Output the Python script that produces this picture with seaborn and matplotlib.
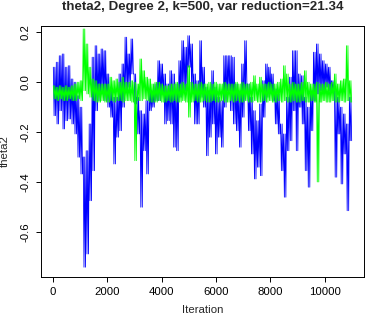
import numpy as np
import pandas as pd
import matplotlib
matplotlib.use("Agg")
import matplotlib.pyplot as plt
import seaborn as sns

# trace: per block of 110 iterations, the high and low value
blue_hi = [0.059, 0.079, 0.105, 0.112, 0.059, 0.065, 0.012, -0.001, -0.055, -0.101,
           -0.300, -0.275, -0.168, 0.099, 0.145, 0.112, 0.132, 0.125, 0.032,
           -0.035, -0.061, -0.061, 0.032, 0.072, 0.179, 0.112, 0.172, 0.032, -0.061,
           -0.115, -0.128, -0.075, -0.035, -0.035, -0.008, 0.085, 0.072, 0.032, -0.008,
           0.045, 0.032, -0.008, 0.085, 0.165, 0.139, 0.185, 0.152, 0.032, 0.005,
           0.165, 0.059, -0.021, -0.035, 0.045, -0.021, -0.061, -0.075, 0.105, 0.105,
           0.105, 0.099, -0.008, -0.035, 0.072, 0.165, -0.008, -0.061, -0.115, -0.155,
           -0.088, 0.005, 0.072, 0.059, 0.032, -0.028, -0.048, -0.168, -0.208, -0.061,
           0.019, 0.125, 0.125, 0.032, 0.025, -0.061, -0.101, -0.035, 0.119, 0.152,
           0.112, 0.085, 0.072, 0.059, 0.005, -0.035, -0.061, -0.101, -0.128, -0.168, -0.061]
blue_lo = [-0.135, -0.168, -0.115, -0.188, -0.155, -0.148, -0.168, -0.208, -0.301, -0.368,
           -0.741, -0.688, -0.475, -0.355, -0.115, -0.075, -0.048, -0.075, -0.101,
           -0.141, -0.328, -0.221, -0.195, -0.101, -0.035, -0.021, 0.032, -0.088, -0.208,
           -0.501, -0.275, -0.368, -0.115, -0.101, -0.075, -0.075, -0.048, -0.168, -0.155,
           -0.168, -0.261, -0.275, -0.061, -0.035, -0.035, 0.059, -0.035, -0.168, -0.168,
           -0.061, -0.101, -0.295, -0.221, -0.168, -0.288, -0.221, -0.261, -0.101, -0.035,
           -0.115, -0.168, -0.195, -0.261, -0.141, -0.035, -0.195, -0.288, -0.388, -0.341,
           -0.375, -0.141, -0.061, -0.048, -0.075, -0.168, -0.208, -0.355, -0.461, -0.275,
           -0.235, -0.115, -0.275, -0.101, -0.168, -0.355, -0.421, -0.195, -0.075, -0.048,
           -0.035, -0.035, -0.021, -0.035, -0.035, -0.381, -0.208, -0.408, -0.288, -0.515, -0.235]

green_hi = [-0.015, -0.021, -0.015, -0.021, -0.015, -0.021, -0.015, -0.008, -0.001, 0.005,
            0.212, 0.152, 0.059, 0.012, 0.005, -0.008, -0.008, -0.008, -0.008,
            0.019, 0.005, 0.012, -0.001, 0.019, -0.001, -0.001, 0.005, -0.001, -0.008,
            0.092, 0.045, 0.019, 0.012, -0.008, -0.001, -0.001, -0.008, -0.015, -0.015,
            -0.008, -0.008, -0.001, -0.008, -0.001, -0.008, 0.065, -0.001, -0.008, -0.008,
            -0.001, -0.008, -0.008, -0.001, -0.008, -0.001, -0.008, -0.008, -0.001, -0.008,
            -0.008, -0.008, -0.001, -0.008, -0.001, -0.008, -0.008, -0.001, 0.025, -0.008,
            0.019, -0.008, -0.008, -0.001, -0.008, -0.008, -0.001, 0.012, 0.065, 0.032,
            -0.008, -0.001, -0.008, -0.008, -0.001, 0.045, -0.001, -0.008, -0.008, -0.001,
            -0.008, -0.008, -0.001, -0.008, -0.001, 0.032, -0.008, 0.005, 0.012, 0.145, 0.005]
green_lo = [-0.068, -0.075, -0.068, -0.075, -0.075, -0.068, -0.075, -0.075, -0.068, -0.075,
            -0.035, -0.048, -0.061, -0.075, -0.081, -0.081, -0.075, -0.081, -0.081,
            -0.075, -0.081, -0.075, -0.075, -0.081, -0.075, -0.075, -0.081, -0.315, -0.075,
            -0.075, -0.068, -0.075, -0.081, -0.081, -0.081, -0.075, -0.081, -0.081, -0.075,
            -0.081, -0.075, -0.081, -0.081, -0.075, -0.081, -0.141, -0.081, -0.075, -0.081,
            -0.081, -0.075, -0.081, -0.081, -0.075, -0.081, -0.081, -0.075, -0.081, -0.081,
            -0.075, -0.081, -0.075, -0.081, -0.081, -0.075, -0.081, -0.081, -0.075, -0.081,
            -0.081, -0.075, -0.081, -0.075, -0.081, -0.081, -0.075, -0.081, -0.075, -0.081,
            -0.081, -0.075, -0.081, -0.081, -0.075, -0.081, -0.081, -0.075, -0.081, -0.400,
            -0.081, -0.075, -0.081, -0.081, -0.075, -0.081, -0.081, -0.075, -0.081, -0.075, -0.081]

block = 110
x_ticks = [0, 2000, 4000, 6000, 8000, 10000]
y_ticks = [-0.6, -0.4, -0.2, 0.0, 0.2]
y_labels = ["-0.6", "-0.4", "-0.2", "0.0", "0.2"]


def zigzag(hi, lo, swings=2):
    # the trace swings between the block's high and low a few times per block
    vals = np.tile(np.column_stack([hi, lo]), swings).ravel()
    step = block / (2 * swings)
    it = np.arange(len(vals)) * step + step / 2
    return pd.DataFrame({"Iteration": it, "theta2": vals})


sns.set_theme(style="ticks")
plt.rcParams["font.family"] = ["Liberation Sans", "DejaVu Sans"]
plt.rcParams["axes.unicode_minus"] = False

fig = plt.figure(figsize=(3.66, 3.17), dpi=100)
ax = fig.add_axes([41 / 366, 1 - 276.7 / 317, 323 / 366, 251 / 317])

sns.lineplot(data=zigzag(blue_hi, blue_lo), x="Iteration", y="theta2", ax=ax,
             color="#0000ff", lw=0.6, sort=False, estimator=None)
sns.lineplot(data=zigzag(green_hi, green_lo), x="Iteration", y="theta2", ax=ax,
             color="#00ff00", lw=0.6, sort=False, estimator=None)

ax.set_xlim(-440, 11440)
ax.set_ylim(-0.779, 0.225)
ax.set_xticks(x_ticks)
ax.set_yticks(y_ticks)
ax.set_yticklabels(y_labels, rotation=90, va="center")
ax.tick_params(direction="out", length=3.6, width=0.7, labelsize=8.2, pad=4, colors="black")
for s in ax.spines.values():
    s.set_linewidth(0.7)
    s.set_color("black")
ax.set_xlabel("Iteration", fontsize=8.2, labelpad=5.5)
ax.set_ylabel("theta2", fontsize=8.2, labelpad=8)
fig.text(202.5 / 366, 1 - 7 / 317, "theta2, Degree 2, k=500, var reduction=21.34",
         ha="center", va="center", fontsize=9.6, fontweight="bold")

plt.savefig("out.png", dpi=100)
